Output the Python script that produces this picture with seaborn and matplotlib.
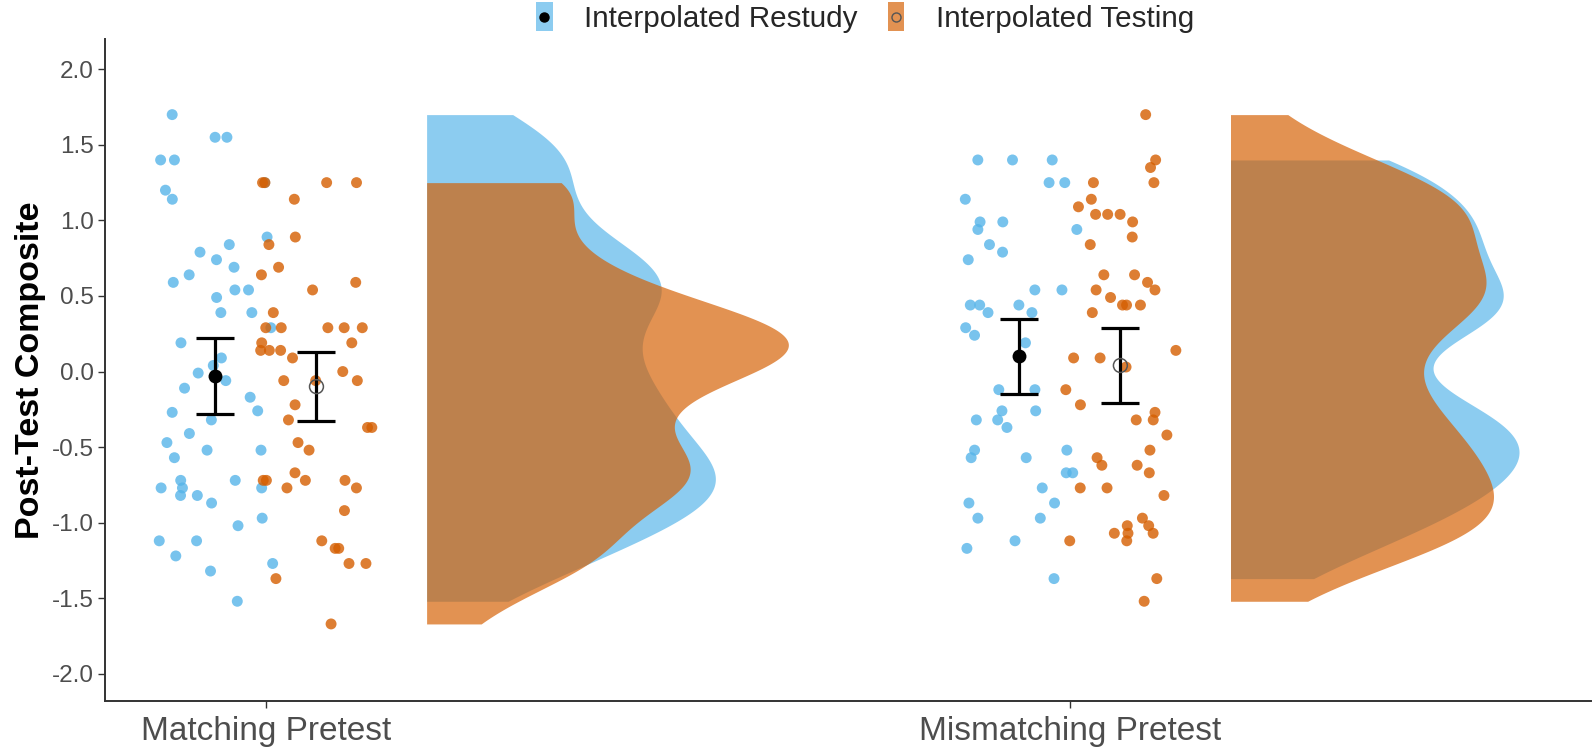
import numpy as np
import pandas as pd
import matplotlib
matplotlib.use("Agg")
import matplotlib.pyplot as plt
import seaborn as sns
from matplotlib.patches import Patch, Rectangle
from matplotlib.lines import Line2D
from matplotlib.legend_handler import HandlerBase

# ---------------- data ----------------
conditions = ["Matching Pretest", "Mismatching Pretest"]
groups = ["Interpolated Restudy", "Interpolated Testing"]

restudy_matching = [1.70, 1.55, 1.55, 1.40, 1.40, 1.25, 1.20, 1.14, 0.89, 0.84, 0.79,
                    0.74, 0.69, 0.64, 0.59, 0.54, 0.54, 0.49, 0.39, 0.39, 0.29, 0.19,
                    0.09, 0.04, -0.01, -0.06, -0.11, -0.17, -0.26, -0.27, -0.32, -0.41,
                    -0.47, -0.52, -0.52, -0.57, -0.72, -0.72, -0.77, -0.77, -0.77,
                    -0.82, -0.82, -0.87, -0.97, -1.02, -1.12, -1.12, -1.22, -1.27,
                    -1.32, -1.52]
testing_matching = [1.25, 1.25, 1.25, 1.25, 1.14, 0.89, 0.84, 0.69, 0.64, 0.59, 0.54,
                    0.39, 0.29, 0.29, 0.29, 0.29, 0.29, 0.19, 0.19, 0.14, 0.14, 0.14,
                    0.09, 0.00, -0.06, -0.06, -0.06, -0.22, -0.32, -0.37, -0.37, -0.47,
                    -0.52, -0.67, -0.72, -0.72, -0.72, -0.72, -0.77, -0.77, -0.92,
                    -1.12, -1.17, -1.17, -1.27, -1.27, -1.37, -1.67]
restudy_mismatching = [1.40, 1.40, 1.40, 1.25, 1.25, 1.14, 0.99, 0.99, 0.94, 0.94, 0.84,
                       0.79, 0.74, 0.54, 0.54, 0.44, 0.44, 0.44, 0.39, 0.39, 0.29, 0.24,
                       0.19, -0.12, -0.12, -0.26, -0.26, -0.32, -0.32, -0.37, -0.52,
                       -0.52, -0.57, -0.57, -0.67, -0.67, -0.77, -0.87, -0.87, -0.97,
                       -0.97, -1.12, -1.17, -1.37]
testing_mismatching = [1.70, 1.40, 1.35, 1.25, 1.25, 1.14, 1.09, 1.04, 1.04, 1.04, 0.99,
                       0.89, 0.84, 0.64, 0.64, 0.59, 0.54, 0.54, 0.49, 0.44, 0.44, 0.44,
                       0.39, 0.14, 0.09, 0.09, 0.03, -0.12, -0.22, -0.27, -0.32, -0.32,
                       -0.42, -0.52, -0.57, -0.62, -0.62, -0.67, -0.77, -0.77, -0.82,
                       -0.97, -1.02, -1.02, -1.07, -1.07, -1.07, -1.12, -1.12, -1.37,
                       -1.52]

# summary (mean with CI) per group, per condition
restudy_mean = [-0.03, 0.10]
restudy_ci_low = [-0.28, -0.15]
restudy_ci_high = [0.22, 0.35]
testing_mean = [-0.10, 0.04]
testing_ci_low = [-0.33, -0.21]
testing_ci_high = [0.13, 0.29]

y_ticks = [-2.0, -1.5, -1.0, -0.5, 0.0, 0.5, 1.0, 1.5, 2.0]

# ---------------- build table ----------------
scores = {(groups[0], 0): restudy_matching, (groups[1], 0): testing_matching,
          (groups[0], 1): restudy_mismatching, (groups[1], 1): testing_mismatching}
rows = []
for (g, c), vals in scores.items():
    for v in vals:
        rows.append({"group": g, "cond": c, "score": v})
df = pd.DataFrame(rows)

blue = "#56B4E9"
orange = "#D55E00"
palette = {groups[0]: blue, groups[1]: orange}
dodge = {groups[0]: -0.063, groups[1]: 0.063}
VIOLIN_ALPHA = 0.68

sns.set_theme(style="white")
plt.rcParams['font.family'] = ['Liberation Sans', 'DejaVu Sans']

fig = plt.figure(figsize=(15.94, 7.48), dpi=100)
ax = fig.add_axes([0.0659, 0.0628, 0.932, 0.885])

# jittered raw points
rng = np.random.default_rng(11)
df["xpos"] = df["cond"] + df["group"].map(dodge) + rng.uniform(-0.072, 0.072, len(df))
sns.scatterplot(data=df, x="xpos", y="score", hue="group", palette=palette,
                s=62, alpha=0.8, edgecolor="none", linewidth=0, legend=False,
                ax=ax, zorder=2)


# half violins (Gaussian KDE, bw.nrd0 * adjust, trimmed to data range)
def kde(vals, adjust=0.75):
    v = np.asarray(vals, dtype=float)
    n = len(v)
    sd = v.std(ddof=1)
    q75, q25 = np.percentile(v, [75, 25])
    bw = adjust * 0.9 * min(sd, (q75 - q25) / 1.34) * n ** -0.2
    grid = np.linspace(v.min(), v.max(), 512)
    d = np.exp(-0.5 * ((grid[:, None] - v[None, :]) / bw) ** 2).sum(1) / (n * bw * np.sqrt(2 * np.pi))
    return grid, d


dens = {k: kde(v) for k, v in scores.items()}
gmax = max(d.max() for _, d in dens.values())
for c in [0, 1]:
    for g in groups:
        grid, d = dens[(g, c)]
        base = c + 0.2
        ax.fill_betweenx(grid, base, base + d / gmax * 0.45, color=palette[g],
                         alpha=VIOLIN_ALPHA, linewidth=0, zorder=1)

# error bars + means
xc = np.array([0, 1])
for g, m, lo, hi in [(groups[0], restudy_mean, restudy_ci_low, restudy_ci_high),
                     (groups[1], testing_mean, testing_ci_low, testing_ci_high)]:
    off = dodge[g]
    m = np.array(m); lo = np.array(lo); hi = np.array(hi)
    ax.errorbar(xc + off, m, yerr=[m - lo, hi - m], fmt="none", ecolor="black",
                elinewidth=2.3, capsize=14, capthick=2.3, zorder=4)
    if g == groups[0]:
        ax.scatter(xc + off, m, s=100, color="black", zorder=5, linewidths=0)
    else:
        ax.scatter(xc + off, m, s=100, facecolor="none", edgecolor="#555555",
                   linewidths=1.1, zorder=5)

# axes styling
ax.set_xlim(-0.200, 1.648)
ax.set_ylim(-2.18, 2.20)
ax.set_xticks([0, 1])
ax.set_xticklabels(conditions)
ax.set_yticks(y_ticks)
ax.set_yticklabels([f"{t:.1f}" for t in y_ticks])
ax.tick_params(axis="both", which="both", direction="out", length=5, width=1,
               color="#333333", left=True, bottom=True)
ax.tick_params(axis="y", labelsize=17.5, labelcolor="#4D4D4D", pad=3)
ax.tick_params(axis="x", labelsize=24, labelcolor="#4D4D4D", pad=6)
for s in ["top", "right"]:
    ax.spines[s].set_visible(False)
for s in ["left", "bottom"]:
    ax.spines[s].set_color("#333333")
    ax.spines[s].set_linewidth(1.4)
ax.set_xlabel("")
ax.set_ylabel("Post-Test Composite", fontsize=24.5, fontweight="bold", color="black")
ax.yaxis.set_label_coords(-0.040, 0.5)


# legend: coloured key with a mean marker drawn in its centre
class KeyHandler(HandlerBase):
    def create_artists(self, legend, orig_handle, xdescent, ydescent, width, height,
                       fontsize, trans):
        rect = Rectangle((-xdescent, -ydescent), width, height,
                         facecolor=orig_handle.get_facecolor(), edgecolor="none",
                         transform=trans)
        filled = orig_handle.get_label() == "filled"
        dot = Line2D([-xdescent + width / 2], [-ydescent + height / 2], marker="o", ls="",
                     markersize=6.5,
                     markerfacecolor="black" if filled else "none",
                     markeredgecolor="black" if filled else "#555555",
                     markeredgewidth=1.0, transform=trans)
        return [rect, dot]


h1 = Patch(facecolor=blue, alpha=VIOLIN_ALPHA, label="filled")
h2 = Patch(facecolor=orange, alpha=VIOLIN_ALPHA, label="open")
fig.legend([h1, h2], groups, handler_map={Patch: KeyHandler()},
           loc="center", bbox_to_anchor=(0.5427, 0.977), ncol=2, frameon=False,
           fontsize=21.3, handlelength=0.55, handleheight=1.15, columnspacing=1.05,
           handletextpad=1.05, borderpad=0.2)

fig.savefig("out.png", dpi=100)
